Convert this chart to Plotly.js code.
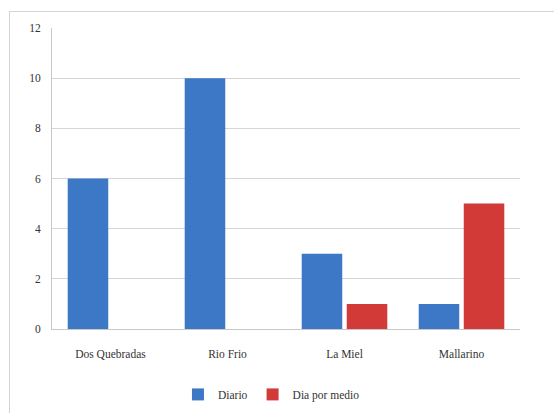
<!DOCTYPE html>
<html>
<head>
<meta charset="utf-8">
<script src="https://cdn.plot.ly/plotly-3.0.1.min.js"></script>
<style>
html,body{margin:0;padding:0;background:#fff;}
#frame{position:absolute;left:9px;top:11px;width:560px;height:420px;border:1px solid #d4d4d4;box-sizing:border-box;}
#chart{position:absolute;left:0;top:0;width:554px;height:413px;}
</style>
</head>
<body>
<div id="frame"></div>
<div id="chart"></div>
<script>
const categories = ["Dos Quebradas", "Rio Frio", "La Miel", "Mallarino"];
const diario = [6, 10, 3, 1];
const diaPorMedio = [0, 0, 1, 5];
const seriesNames = ["Diario", "Dia por medio"];
const yTicks = [0, 2, 4, 6, 8, 10, 12];

const font = {family: "Liberation Serif, DejaVu Serif, serif", size: 11.5, color: "#333"};

const traces = [
  {type: "bar", name: seriesNames[0], x: categories, y: diario,
   marker: {color: "#3c78c6", line: {width: 0}}},
  {type: "bar", name: seriesNames[1], x: categories, y: diaPorMedio,
   marker: {color: "#d23a38", line: {width: 0}}}
];

const layout = {
  width: 554, height: 413,
  margin: {l: 52, r: 34, t: 28, b: 84},
  paper_bgcolor: "rgba(0,0,0,0)",
  plot_bgcolor: "rgba(0,0,0,0)",
  font: font,
  barmode: "group",
  bargap: 0.23,
  bargroupgap: 0.1,
  showlegend: true,
  legend: {orientation: "h", xref: "container", yref: "container",
           x: 0.49, xanchor: "center", y: 0.045, yanchor: "middle",
           font: font, itemwidth: 30, tracegroupgap: 0},
  xaxis: {type: "category", showgrid: false, showline: true, linecolor: "#c8c8c8",
          ticks: "", tickfont: font, zeroline: false, ticklabelstandoff: 14, automargin: false},
  yaxis: {range: [0, 12], tickvals: yTicks, showgrid: true, gridcolor: "#d6d6d6",
          showline: true, linecolor: "#c8c8c8", ticks: "", tickfont: font,
          zeroline: false, ticklabelstandoff: 8, automargin: false}
};

Plotly.newPlot("chart", traces, layout, {displayModeBar: false, staticPlot: true});
</script>
</body>
</html>
